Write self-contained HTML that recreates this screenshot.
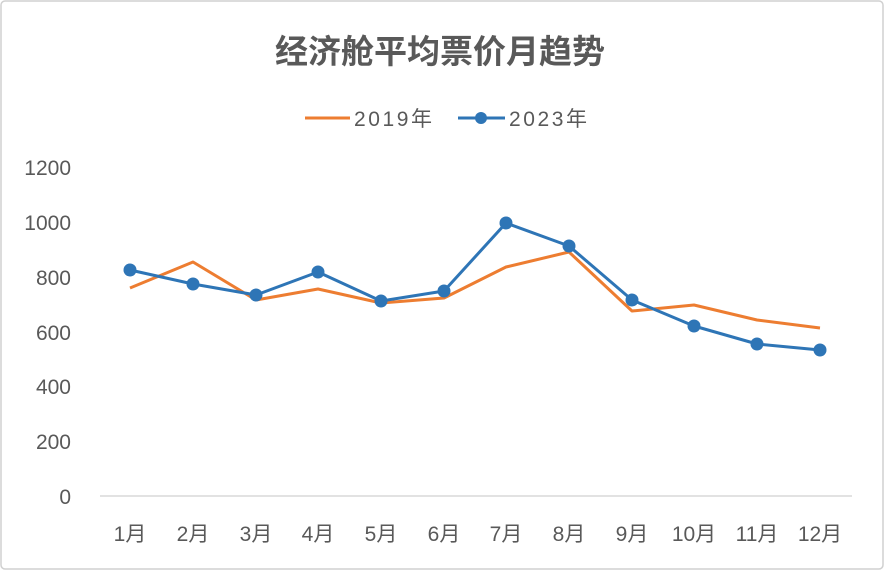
<!DOCTYPE html>
<html><head><meta charset="utf-8"><style>
body{margin:0;background:#fff;}
svg{display:block;}
text{font-family:"Liberation Sans","Noto Sans CJK SC",sans-serif;fill:#595959;}
</style></head><body>
<svg width="884" height="570" viewBox="0 0 884 570">
<rect x="1" y="1" width="882" height="568" rx="4" fill="#fff" stroke="#d0d0d0" stroke-width="1.5"/>
<text x="440" y="63" text-anchor="middle" font-size="33" font-weight="bold" style="fill:#595959">经济舱平均票价月趋势</text>
<line x1="305" y1="118" x2="350" y2="118" stroke="#ed7d31" stroke-width="3"/>
<text x="354" y="126" font-size="21" textLength="78">2019年</text>
<line x1="458" y1="118" x2="505" y2="118" stroke="#2e75b6" stroke-width="3"/>
<circle cx="481" cy="118" r="6" fill="#2e75b6"/>
<text x="509" y="126" font-size="21" textLength="78">2023年</text>
<g font-size="21" text-anchor="end">
<text x="71" y="175">1200</text>
<text x="71" y="230">1000</text>
<text x="71" y="285">800</text>
<text x="71" y="340">600</text>
<text x="71" y="394">400</text>
<text x="71" y="449">200</text>
<text x="71" y="504">0</text>
</g>
<line x1="100" y1="496" x2="852" y2="496" stroke="#d9d9d9" stroke-width="1.5"/>
<g font-size="21" text-anchor="middle">
<text x="130" y="541">1月</text><text x="193" y="541">2月</text><text x="256" y="541">3月</text>
<text x="318" y="541">4月</text><text x="381" y="541">5月</text><text x="444" y="541">6月</text>
<text x="506" y="541">7月</text><text x="569" y="541">8月</text><text x="632" y="541">9月</text>
<text x="694" y="541">10月</text><text x="757" y="541">11月</text><text x="820" y="541">12月</text>
</g>
<polyline fill="none" stroke="#ed7d31" stroke-width="3" stroke-linejoin="round" points="130,288 193,262 256,300 318,289 381,303 444,298 506,267 569,252 632,311 694,305 757,320 820,328"/>
<polyline fill="none" stroke="#2e75b6" stroke-width="3" stroke-linejoin="round" points="130,270 193,284 256,295 318,272 381,301 444,291 506,223 569,246 632,300 694,326 757,344 820,350"/>
<g fill="#2e75b6">
<circle cx="130" cy="270" r="6.5"/><circle cx="193" cy="284" r="6.5"/><circle cx="256" cy="295" r="6.5"/>
<circle cx="318" cy="272" r="6.5"/><circle cx="381" cy="301" r="6.5"/><circle cx="444" cy="291" r="6.5"/>
<circle cx="506" cy="223" r="6.5"/><circle cx="569" cy="246" r="6.5"/><circle cx="632" cy="300" r="6.5"/>
<circle cx="694" cy="326" r="6.5"/><circle cx="757" cy="344" r="6.5"/><circle cx="820" cy="350" r="6.5"/>
</g>
</svg>
</body></html>
